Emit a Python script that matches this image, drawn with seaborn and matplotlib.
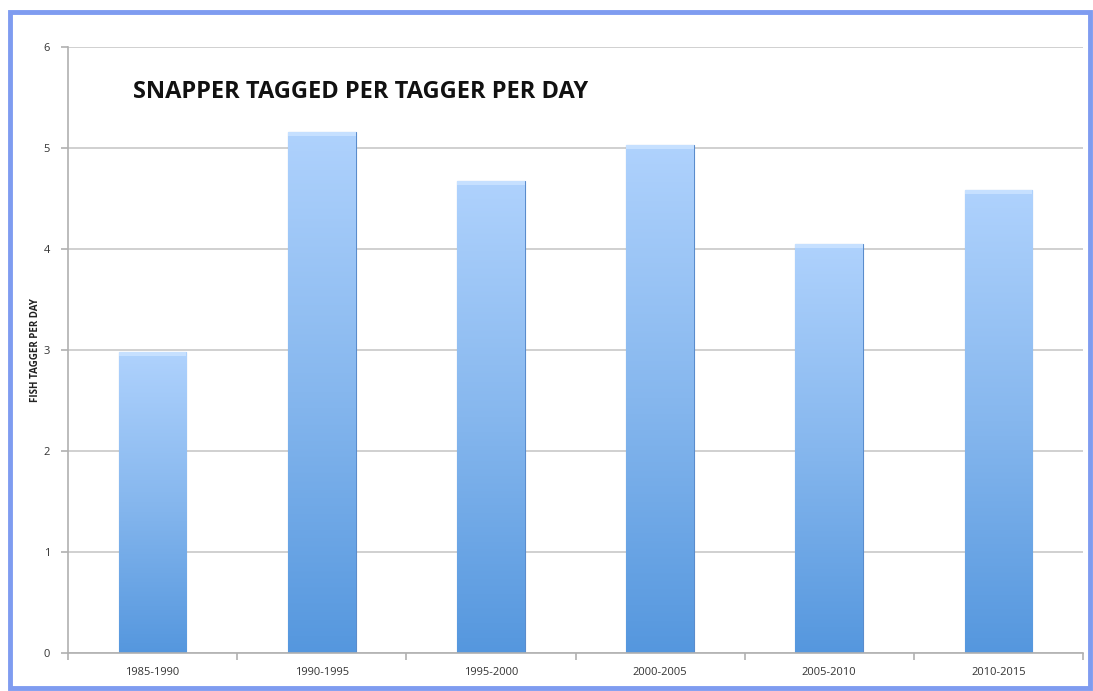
import numpy as np
import pandas as pd
import matplotlib
matplotlib.use("Agg")
import matplotlib.pyplot as plt
from matplotlib.colors import LinearSegmentedColormap
from matplotlib.patches import Rectangle
import seaborn as sns

# data
periods = ["1985-1990", "1990-1995", "1995-2000", "2000-2005", "2005-2010", "2010-2015"]
fish_per_tagger = [2.98, 5.16, 4.67, 5.03, 4.05, 4.58]

df = pd.DataFrame({"Period": periods, "Fish": fish_per_tagger})

sns.set_theme(style="white")
plt.rcParams['font.family'] = ['Open Sans', 'DejaVu Sans']

fig = plt.figure(figsize=(10.93, 6.91), dpi=100)
ax = fig.add_axes([68 / 1093, 1 - 653 / 691, (1083 - 68) / 1093, (653 - 47) / 691])

sns.barplot(data=df, x="Period", y="Fish", color="#8ab8ee", width=0.40, ax=ax,
            edgecolor="#5a8ccc", linewidth=0.8, zorder=2)

# vertical gradient on each bar: light at top, darker at bottom
grad_cmap = LinearSegmentedColormap.from_list("bar", ["#5597de", "#86b7ee", "#afd2fd"])
grad = np.linspace(0, 1, 256).reshape(-1, 1)
for p in ax.patches:
    x0, w, h = p.get_x(), p.get_width(), p.get_height()
    im = ax.imshow(grad, cmap=grad_cmap, origin="lower", aspect="auto",
                   extent=[x0, x0 + w, 0, h], zorder=2.5)
    im.set_clip_path(p)
    # soft highlight cap at top
    ax.add_patch(Rectangle((x0, h - 0.04), w, 0.04, color="#c6e0ff", zorder=2.6, lw=0))

ax.set_xlim(-0.5, len(periods) - 0.5)
ax.set_ylim(0, 6)
ax.set_yticks(range(7))
ax.yaxis.grid(True, color="#c8c8c8", linewidth=1.2, zorder=0)
ax.set_axisbelow(True)

for s in ["top", "right"]:
    ax.spines[s].set_visible(False)
for s in ["left", "bottom"]:
    ax.spines[s].set_color("#b0b0b0")
    ax.spines[s].set_linewidth(1.2)

# x ticks at category boundaries, labels centered
ax.set_xticks(np.arange(len(periods)))
ax.set_xticklabels(periods, fontsize=8, color="#333333")
ax.set_xticks(np.arange(-0.5, len(periods)), minor=True)
ax.tick_params(axis="x", which="major", bottom=False, length=0, pad=10)
ax.tick_params(axis="x", which="minor", bottom=True, length=5, color="#b0b0b0",
               width=1.2, direction="out")
ax.tick_params(axis="y", left=True, length=5, color="#b0b0b0", width=1.2, direction="out",
               labelsize=8, labelcolor="#333333", pad=8)

ax.set_xlabel("")
ax.set_ylabel("FISH TAGGER PER DAY", fontsize=7, fontweight="bold", color="#222222", labelpad=2)

ax.text(0.064, 0.925, "SNAPPER TAGGED PER TAGGER PER DAY", transform=ax.transAxes,
        fontsize=17, fontweight="bold", color="#111111", va="center", ha="left")

# blue frame around the whole chart
fig.patches.append(Rectangle((10 / 1093, 3 / 691), 1080 / 1093, 676 / 691,
                             transform=fig.transFigure, fill=False,
                             edgecolor="#7f9cf0", linewidth=3.5, zorder=0))

fig.savefig("out.png", dpi=100)
